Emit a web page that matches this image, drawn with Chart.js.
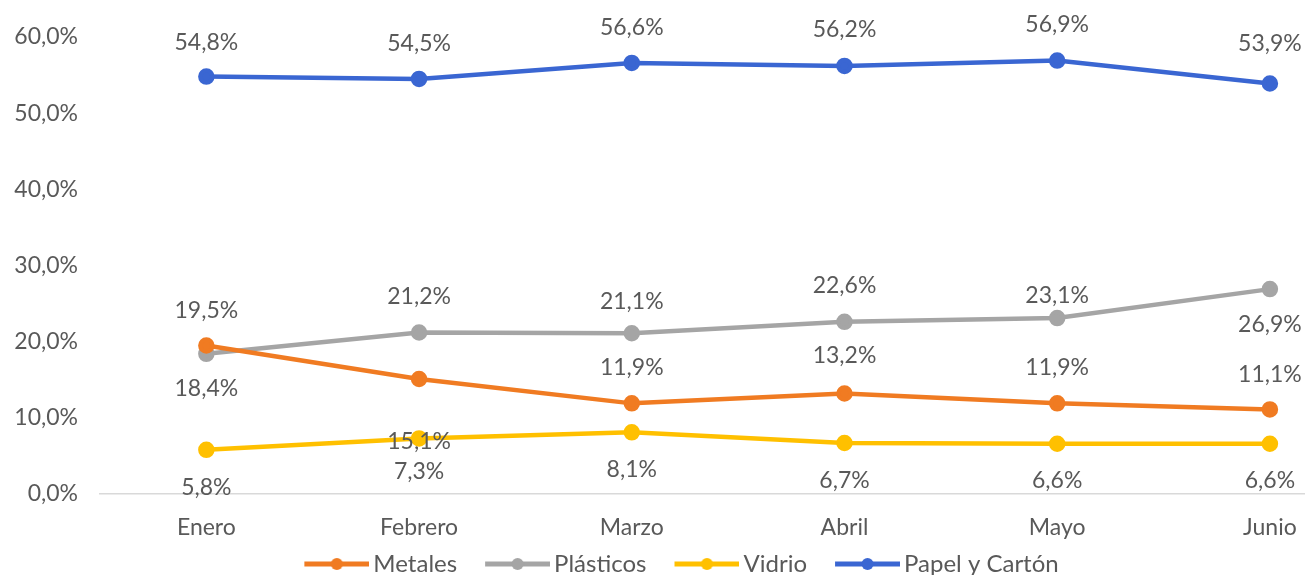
<!DOCTYPE html>
<html>
<head>
<meta charset="utf-8">
<script src="https://cdn.jsdelivr.net/npm/chart.js@4/dist/chart.umd.min.js"></script>
<style>
  html, body { margin: 0; padding: 0; background: #ffffff; overflow: hidden; }
  #wrap { width: 1305px; height: 575px; }
</style>
</head>
<body>
<div id="wrap"><canvas id="c" width="1305" height="575"></canvas></div>
<script>
// ---- Data ----
const months = ['Enero', 'Febrero', 'Marzo', 'Abril', 'Mayo', 'Junio'];
const metales = [19.5, 15.1, 11.9, 13.2, 11.9, 11.1];
const plasticos = [18.4, 21.2, 21.1, 22.6, 23.1, 26.9];
const vidrio = [5.8, 7.3, 8.1, 6.7, 6.6, 6.6];
const papel = [54.8, 54.5, 56.6, 56.2, 56.9, 53.9];
const yTicks = [0, 10, 20, 30, 40, 50, 60];

// ---- Styles ----
const TEXT = '#595959';
const FONT = 'Lato';
const FS = 23;
const LEGEND_FS = 24;
const series = [
  { label: 'Metales', data: metales, color: '#F07B22', offsets: [-35, 63, -36, -38, -36, -35] },
  { label: 'Plásticos', data: plasticos, color: '#A5A5A5', offsets: [35, -36, -32, -36, -22, 35] },
  { label: 'Vidrio', data: vidrio, color: '#FFC000', offsets: [38, 33, 37, 38, 37, 37] },
  { label: 'Papel y Cartón', data: papel, color: '#3A66D2', offsets: [-34, -35, -35, -36, -36, -40] }
];

const fmt = v => v.toFixed(1).replace('.', ',') + '%';

function legendIcon(color) {
  const c = document.createElement('canvas');
  c.width = 99; c.height = 16;
  const g = c.getContext('2d');
  g.strokeStyle = color; g.lineWidth = 5;
  g.beginPath(); g.moveTo(34, 8); g.lineTo(99, 8); g.stroke();
  g.fillStyle = color;
  g.beginPath(); g.arc(66.5, 8, 6, 0, Math.PI * 2); g.fill();
  return c;
}

const labelPlugin = {
  id: 'pointLabels',
  afterLayout(chart) {
    const l = chart.legend;
    if (l) { l.left += 16; l.right += 16; }
  },
  afterDatasetsDraw(chart) {
    const ctx = chart.ctx;
    ctx.save();
    ctx.font = FS + 'px ' + FONT;
    ctx.fillStyle = TEXT;
    ctx.textAlign = 'center';
    ctx.textBaseline = 'middle';
    chart.data.datasets.forEach((ds, di) => {
      const meta = chart.getDatasetMeta(di);
      meta.data.forEach((pt, i) => {
        ctx.fillText(fmt(ds.data[i].y), pt.x, pt.y + ds.labelOffsets[i]);
      });
    });
    ctx.restore();
  }
};

Chart.defaults.font.family = FONT;
Chart.defaults.font.size = FS;
Chart.defaults.color = TEXT;

new Chart(document.getElementById('c'), {
  type: 'line',
  data: {
    datasets: series.map(s => ({
      label: s.label,
      data: s.data.map((v, i) => ({ x: i, y: v })),
      borderColor: s.color,
      backgroundColor: s.color,
      pointBackgroundColor: s.color,
      pointBorderColor: s.color,
      borderWidth: 4.5,
      pointRadius: 6,
      pointHoverRadius: 6,
      tension: 0,
      clip: false,
      labelOffsets: s.offsets,
      legendIcon: legendIcon(s.color)
    }))
  },
  options: {
    responsive: false,
    animation: false,
    events: [],
    layout: { autoPadding: false, padding: { left: 0, right: 0, top: 37, bottom: -11 } },
    plugins: {
      tooltip: { enabled: false },
      legend: {
        position: 'bottom',
        labels: {
          usePointStyle: true,
          pointStyleWidth: 83,
          padding: 2,
          color: TEXT,
          font: { size: LEGEND_FS, family: FONT },
          generateLabels(chart) {
            const items = Chart.defaults.plugins.legend.labels.generateLabels(chart);
            items.forEach(it => { it.pointStyle = chart.data.datasets[it.datasetIndex].legendIcon; });
            return items;
          }
        }
      }
    },
    scales: {
      x: {
        type: 'linear',
        min: -0.5,
        max: 5.165,
        afterBuildTicks(scale) { scale.ticks = months.map((m, i) => ({ value: i })); },
        afterFit(scale) { scale.height = 56; },
        ticks: {
          callback: v => months[v],
          autoSkip: false,
          maxRotation: 0,
          padding: 0,
          color: TEXT,
          font: { size: FS }
        },
        grid: { display: false, drawTicks: true, tickLength: 20 },
        border: { display: true, color: '#D9D9D9', width: 1.5 }
      },
      y: {
        type: 'linear',
        min: 0,
        max: 60,
        afterBuildTicks(scale) { scale.ticks = yTicks.map(v => ({ value: v })); },
        afterFit(scale) { scale.width = 100; },
        ticks: {
          callback: v => fmt(v),
          padding: 22,
          color: TEXT,
          font: { size: FS }
        },
        grid: { display: false, drawTicks: false },
        border: { display: false }
      }
    }
  },
  plugins: [labelPlugin]
});
</script>
</body>
</html>
